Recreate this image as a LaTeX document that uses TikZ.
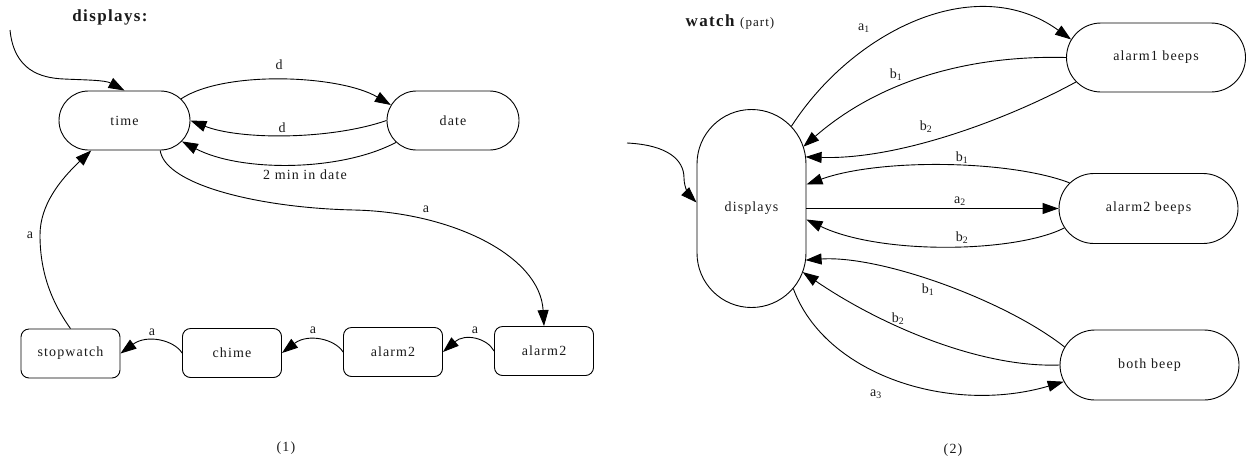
\documentclass[tikz,border=0pt]{standalone}
\usepackage{fontspec}
\setmainfont{Liberation Serif}
\newfontfamily\gvfont[LetterSpace=8]{Liberation Serif}
\usetikzlibrary{arrows.meta,shapes.misc,calc}

\tikzset{
  x=1pt, y=-1pt,
  every node/.style={font=\gvfont\fontsize{14pt}{16pt}\selectfont, text=black!90},
  state/.style={draw, rounded rectangle, minimum height=59pt, inner sep=0pt, line width=0.9pt},
  wide/.style={draw, rounded rectangle, minimum height=69pt, minimum width=179pt, inner sep=0pt, line width=0.9pt},
  box/.style={draw, rectangle, rounded corners=8pt, minimum width=99pt, minimum height=49pt, inner sep=0pt, line width=0.9pt},
  tall/.style={draw, rectangle, rounded corners=54.5pt, minimum width=109pt, minimum height=198pt, inner sep=0pt, line width=0.9pt},
  tr/.style={-{Triangle[length=16pt,width=11pt]}, line width=0.9pt},
  lab/.style={inner sep=1pt},
  title/.style={font=\gvfont\fontsize{17pt}{19pt}\selectfont\bfseries, text=black!90}
}

\begin{document}
\begin{tikzpicture}
\useasboundingbox (0,0) rectangle (1249,461);

% ---------- (1) displays ----------
\node[title] (ttl1) at (110,17) {displays:};

\node[state, minimum width=131pt] (time) at (124.5,120.5) {time};
\node[state, minimum width=132pt] (date) at (453,120.5) {date};
\node[box] (sw) at (70.5,353.5) {stopwatch};
\node[box] (chime) at (232,353) {chime};
\node[box] (a2m) at (393,352) {alarm2};
\node[box] (a2r) at (544,351) {alarm2};

\coordinate (init1) at (10,30);
\draw[tr] (init1) .. controls (14,70) and (40,78) .. (64,79)
                  .. controls (85,80) and (105,80) .. (time.north);

\draw[tr] (time.21) .. controls (225,70) and (340,75) .. (date.166);
\draw[tr] (date.west) .. controls (330,140) and (240,140) .. (time.east);
\draw[tr] (date.201) .. controls (340,172) and (240,172) .. (time.340);
\draw[tr] (time.320) .. controls (165,185) and (260,208) .. (354,210)
                     .. controls (450,212) and (540,255) .. (a2r.north);
\draw[tr] (a2r.west) .. controls (487,338) and (465,333) .. (a2m.east);
\draw[tr] (a2m.west) .. controls (335,339) and (308,333) .. (chime.east);
\draw[tr] (chime.west) .. controls (174,340) and (147,334) .. (sw.east);
\draw[tr] (sw.north) .. controls (50,300) and (40,270) .. (40,235)
                    .. controls (40,205) and (60,180) .. (time.222);

\node[lab] (l1) at (279,65) {d};
\node[lab] (l2) at (282,128) {d};
\node[lab] (l3) at (305,175) {2 min in date};
\node[lab] (l4) at (426,209) {a};
\node[lab] (l5) at (30,235) {a};
\node[lab] (l6) at (475,330) {a};
\node[lab] (l7) at (313,330) {a};
\node[lab] (l8) at (152,332) {a};
\node (cap1) at (286,448) {(1)};

% ---------- (2) watch ----------
\node[title] (ttl2) at (730,22) {watch {\mdseries\fontsize{13pt}{15pt}\selectfont (part)}};

\node[tall] (disp) at (751.5,208.5) {displays};
\node[wide] (al1) at (1156,57.5) {alarm1 beeps};
\node[wide, minimum height=70pt] (al2) at (1148.5,208.5) {alarm2 beeps};
\node[wide, minimum height=70pt] (both) at (1149.5,365) {both beep};

\coordinate (dtop) at ($(disp.north)+(0,54.5)$);
\coordinate (dbot) at ($(disp.south)+(0,-54.5)$);
\coordinate (init2) at (627,143);

\draw[tr] (init2) .. controls (668,145) and (684,160) .. (684,178)
                  .. controls (684,188) and (690,196) .. ($(disp.west)+(0,-6)$);

\draw[tr] ($(dtop)+(-43:54.5)$) .. controls (852,32) and (975,-30) .. (al1.168);
\draw[tr] (al1.west) .. controls (970,55) and (880,80) .. ($(dtop)+(-18:54.5)$);
\draw[tr] (al1.197) .. controls (1010,118) and (900,160) .. ($(dtop)+(-7:54.5)$);
\draw[tr] (al2.162) .. controls (1010,160) and (880,158) .. ($(disp.east)+(0,-24)$);
\draw[tr] (disp.east) -- (al2.west);
\draw[tr] (al2.193) .. controls (1015,253) and (880,255) .. ($(disp.east)+(0,11)$);
\draw[tr] (both.168) .. controls (1005,300) and (880,255) .. ($(dbot)+(7:54.5)$);
\draw[tr] (both.west) .. controls (980,368) and (880,325) .. ($(dbot)+(20:54.5)$);
\draw[tr] ($(dbot)+(40:54.5)$) .. controls (825,375) and (950,415) .. (both.191);

\node[lab] (m1) at (864,28) {a\textsubscript{1}};
\node[lab] (m2) at (896,75) {b\textsubscript{1}};
\node[lab] (m3) at (926,127) {b\textsubscript{2}};
\node[lab] (m4) at (962,158) {b\textsubscript{1}};
\node[lab] (m5) at (960,201) {a\textsubscript{2}};
\node[lab] (m6) at (962,238) {b\textsubscript{2}};
\node[lab] (m7) at (928,290) {b\textsubscript{1}};
\node[lab] (m8) at (898,319) {b\textsubscript{2}};
\node[lab] (m9) at (876,394) {a\textsubscript{3}};
\node (cap2) at (953,450) {(2)};
\end{tikzpicture}
\end{document}
